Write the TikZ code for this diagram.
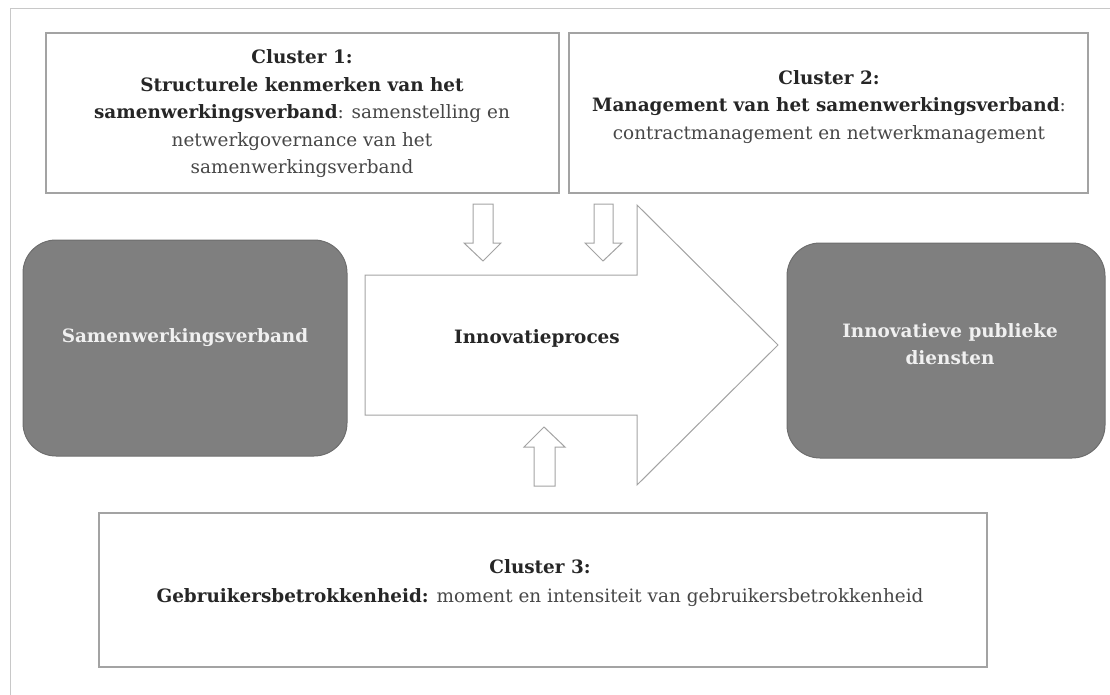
\documentclass[tikz,border=0pt]{standalone}
\usepackage{fontspec}
\setmainfont{DejaVu Serif}
\usepackage{xcolor}

\definecolor{lineGray}{HTML}{A3A3A3}
\definecolor{frameGray}{HTML}{C8C8C8}
\definecolor{blockGray}{HTML}{7F7F7F}
\definecolor{blockEdge}{HTML}{6E6E6E}
\definecolor{boldText}{HTML}{262626}
\definecolor{plainText}{HTML}{474747}

\tikzset{
  clusterbox/.style={draw=lineGray,line width=1.3pt,fill=white},
  roundbox/.style={draw=blockEdge,line width=1pt,fill=blockGray,rounded corners=33pt},
  blockarrow/.style={draw=lineGray,line width=1pt,fill=white,line join=miter},
  clustertext/.style={align=center,inner sep=0pt,font=\fontsize{18.4}{27.5}\selectfont,text=plainText},
  whitetext/.style={align=center,inner sep=0pt,font=\fontsize{18.4}{27}\selectfont\bfseries,text=white!94!black}
}

\begin{document}
\begin{tikzpicture}[x=1pt,y=-1pt]
\useasboundingbox (0,0) rectangle (1110,695);
% page frame
\draw[frameGray,line width=1pt] (10,695) -- (10,9) -- (1110,9);

% clusters
\draw[clusterbox] (46,33) rectangle (559,193);
\node[clustertext] (cluster1) at (302,114)
  {\textcolor{boldText}{\bfseries Cluster 1:}\\
   \textcolor{boldText}{\bfseries Structurele kenmerken van het}\\
   \textcolor{boldText}{\bfseries samenwerkingsverband}: samenstelling en\\
   netwerkgovernance van het\\
   samenwerkingsverband};
\draw[clusterbox] (569,33) rectangle (1088,193);
\node[clustertext] (cluster2) at (829,107)
  {\textcolor{boldText}{\bfseries Cluster 2:}\\
   \textcolor{boldText}{\bfseries Management van het samenwerkingsverband}:\\
   contractmanagement en netwerkmanagement};
\draw[clusterbox] (99,513) rectangle (987,667);
\node[clustertext,font=\fontsize{18.4}{29}\selectfont] (cluster3) at (540,583)
  {\textcolor{boldText}{\bfseries Cluster 3:}\\
   \textcolor{boldText}{\bfseries Gebruikersbetrokkenheid:} moment en intensiteit van gebruikersbetrokkenheid};

% rounded blocks
\draw[roundbox] (23,240) rectangle (347,456);
\node[whitetext] (verband) at (185,338) {Samenwerkingsverband};
\draw[roundbox] (787,243) rectangle (1105,458);
\node[whitetext] (diensten) at (950,344) {Innovatieve publieke\\ diensten};

% process arrow
\draw[blockarrow] (365,275) -- (637,275) -- (637,205) -- (778,345)
  -- (637,485) -- (637,415) -- (365,415) -- cycle;
\node[clustertext,font=\fontsize{18.4}{27}\selectfont\bfseries,text=boldText] (proces) at (537,338) {Innovatieproces};

% small arrows
\draw[blockarrow] (473,204) -- (493,204) -- (493,243) -- (501,243) -- (483,261)
  -- (464,243) -- (473,243) -- cycle;
\draw[blockarrow] (594,204) -- (613,204) -- (613,243) -- (622,243) -- (603,261)
  -- (585,243) -- (594,243) -- cycle;
\draw[blockarrow] (534,486) -- (534,447) -- (524,447) -- (544,427) -- (565,447)
  -- (555,447) -- (555,486) -- cycle;
\end{tikzpicture}
\end{document}
